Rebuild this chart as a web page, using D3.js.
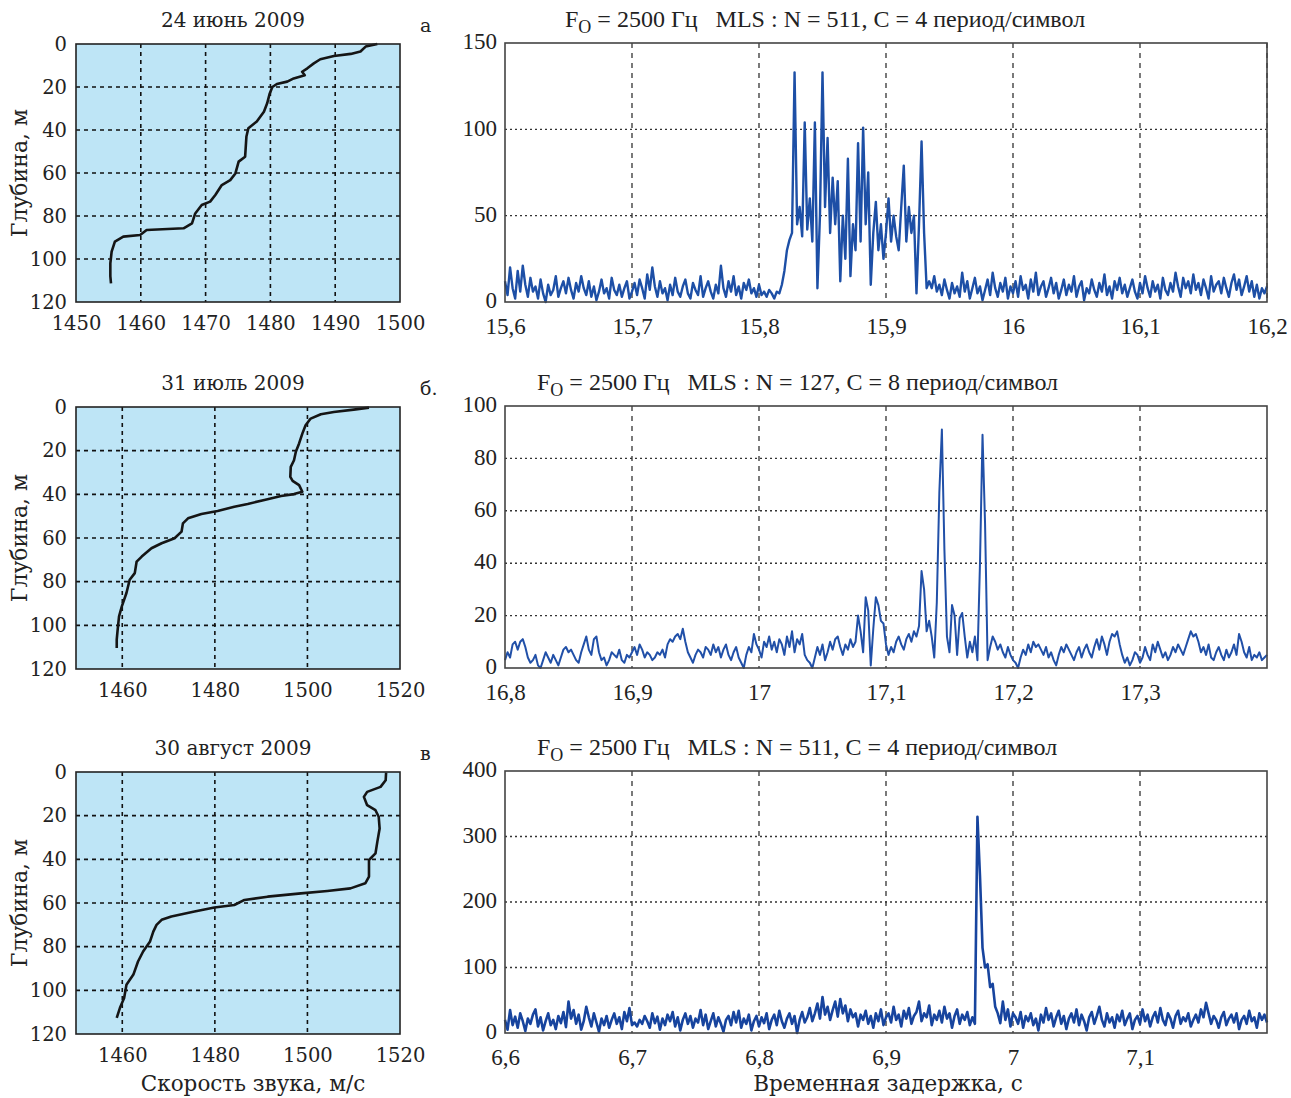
<!DOCTYPE html>
<html>
<head>
<meta charset="utf-8">
<script src="https://cdn.jsdelivr.net/npm/d3@7"></script>
<style>
  body { margin: 0; background: #fff; }
  svg { display: block; }
</style>
</head>
<body>
<svg id="chart" width="1291" height="1098"></svg>
<script>
// ---- sound speed profiles (speed m/s, depth m) ----
var speedJun = [1496.5, 1494.7, 1493.9, 1492.4, 1489.8, 1487.7, 1486.7, 1485.7, 1484.9, 1485.3, 1483.6, 1482.6, 1481, 1480.3, 1479.9, 1479.5, 1479, 1477.9, 1476.6, 1476.3, 1476.1, 1475.1, 1474.6, 1473.8, 1472.5, 1471.5, 1470.7, 1469.4, 1468.4, 1467.9, 1466.6, 1460.9, 1459.9, 1457.3, 1456, 1455.5, 1455.3, 1455.3, 1455.4];
var depthJun = [0, 1.2, 3.5, 4.6, 5.6, 7.1, 9, 11.3, 12.9, 14.5, 16, 17.5, 18.6, 20, 23, 27.6, 31.5, 36, 39.2, 43, 52.4, 54.7, 60.2, 63.3, 65.6, 70.2, 73.3, 74.9, 78.8, 83.4, 85.7, 86.5, 88.8, 89.6, 91.9, 96.6, 102, 108, 111.3];

var speedJul = [1513.3, 1510, 1505.7, 1502.9, 1500.7, 1499.6, 1498.9, 1498.2, 1497.5, 1497.1, 1496.4, 1496.3, 1496.8, 1498.2, 1498.9, 1497.1, 1494.3, 1490.7, 1487.1, 1484.2, 1480.6, 1477.1, 1474.2, 1473.1, 1472.8, 1471.3, 1468.5, 1466.3, 1464.2, 1463.1, 1462.7, 1461.6, 1460.9, 1459.9, 1459.3, 1459, 1458.8, 1458.8];
var depthJul = [0.3, 1.2, 2.3, 3.3, 5.3, 8.4, 12.2, 16.7, 20.5, 24.4, 27.4, 32, 33.8, 35.8, 38.8, 39.9, 40.8, 42.6, 44.4, 45.7, 47.6, 49, 51, 53.3, 57.1, 60.1, 62.4, 64.7, 68.5, 70.8, 76.1, 79.1, 85.2, 91.3, 95.9, 102, 106.5, 110.4];

var speedAug = [1517, 1516.9, 1515.8, 1512.9, 1512.2, 1512.9, 1514.7, 1515.4, 1515.6, 1515.1, 1514.7, 1513.3, 1513.3, 1512.5, 1509.3, 1504.3, 1498.6, 1491.4, 1486.4, 1484.2, 1479.9, 1475.6, 1470.6, 1468.5, 1467.4, 1466.7, 1466, 1464.5, 1463.4, 1462.4, 1460.9, 1460.4, 1459.5, 1458.8];
var depthAug = [0.3, 3.8, 6.8, 9.1, 11.4, 15.2, 17.5, 20.5, 25.9, 32, 37.3, 40.3, 47.9, 51, 53.3, 54.5, 55.6, 57.1, 58.6, 60.9, 62.1, 63.9, 66.2, 67.7, 70, 73.1, 77.6, 82.2, 86.8, 92.8, 97.4, 103.5, 108, 112.6];

// ---- correlation signals, one value every 2 ms ----
var stepT = 0.002;
var startA = 15.6, startB = 16.8, startC = 6.6;

var signalA = [12, 4, 20, 8, 2, 18, 6, 21, 10, 3, 14,
  6, 9, 2, 13, 5, 0, 10, 4, 7, 15,
  3, 8, 12, 5, 14, 7, 2, 11, 6, 15,
  8, 4, 12, 3, 9, 1, 6, 13, 5, 8,
  2, 14, 7, 4, 10, 3, 8, 12, 2, 6,
  11, 4, 13, 8, 2, 16, 7, 20, 9, 3,
  12, 5, 8, 1, 10, 4, 14, 6, 3, 9,
  13, 5, 2, 11, 7, 4, 15, 3, 8, 12,
  6, 2, 10, 5, 21, 8, 3, 12, 6, 15,
  4, 9, 2, 11, 7, 13, 5, 8, 3, 10,
  4, 6, 3, 7, 5, 2, 6, 5, 10, 18,
  30, 36, 40, 133, 45, 55, 38, 104, 42, 60,
  35, 104, 8, 50, 133, 55, 95, 40, 72, 45,
  70, 12, 50, 25, 83, 15, 45, 30, 92, 35,
  101, 45, 75, 10, 40, 58, 30, 45, 25, 40,
  60, 35, 50, 38, 30, 55, 79, 35, 55, 40,
  50, 5, 45, 93, 40, 8, 12, 8, 15, 6,
  10, 4, 13, 7, 2, 11, 5, 9, 3, 17,
  6, 12, 2, 8, 14, 5, 9, 1, 7, 13,
  4, 17, 8, 3, 11, 6, 14, 2, 9, 5,
  12, 3, 15, 7, 10, 2, 13, 6, 17, 4,
  9, 12, 3, 8, 14, 5, 11, 2, 7, 13,
  4, 10, 6, 15, 3, 9, 12, 1, 8, 5,
  13, 7, 3, 11, 6, 16, 4, 9, 2, 12,
  7, 14, 5, 10, 3, 8, 13, 6, 2, 11,
  5, 15, 8, 3, 12, 6, 10, 2, 14, 7,
  4, 11, 6, 17, 9, 3, 14, 8, 12, 5,
  16, 7, 11, 4, 13, 8, 2, 15, 6, 10,
  12, 5, 14, 8, 3, 11, 16, 7, 13, 4,
  9, 15, 6, 12, 3, 10, 2, 8, 5, 9];

var signalB = [3, 6, 4, 9, 10, 7, 10, 11, 8, 4, 2,
  3, 5, 1, 0, 3, 6, 4, 2, 5, 3,
  1, 4, 7, 8, 6, 7, 5, 3, 2, 6,
  9, 12, 7, 5, 11, 12, 6, 3, 4, 1,
  3, 6, 5, 4, 7, 3, 2, 5, 4, 6,
  8, 5, 9, 7, 4, 6, 5, 3, 4, 6,
  5, 7, 4, 9, 11, 10, 12, 13, 11, 15,
  10, 6, 4, 2, 5, 7, 6, 4, 8, 7,
  5, 9, 6, 8, 4, 7, 9, 5, 3, 6,
  8, 4, 2, 0, 5, 8, 6, 13, 9, 7,
  4, 10, 8, 12, 7, 10, 6, 11, 9, 5,
  12, 8, 14, 6, 11, 9, 13, 5, 3, 2,
  0, 4, 8, 5, 9, 3, 6, 10, 7, 11,
  12, 8, 5, 9, 7, 11, 8, 10, 20, 14,
  6, 27, 22, 1, 15, 27, 24, 18, 17, 9,
  5, 8, 6, 10, 12, 9, 7, 11, 13, 10,
  14, 12, 16, 37, 30, 14, 18, 12, 4, 25,
  67, 91, 45, 12, 6, 24, 20, 5, 19, 21,
  12, 4, 10, 6, 12, 3, 40, 89, 55, 3,
  8, 12, 10, 7, 9, 6, 4, 8, 5, 3,
  2, 0, 4, 7, 5, 9, 6, 10, 8, 9,
  7, 5, 8, 4, 6, 3, 1, 5, 8, 6,
  9, 7, 5, 3, 6, 8, 4, 7, 9, 6,
  4, 8, 11, 7, 12, 9, 5, 10, 13, 12,
  14, 9, 5, 2, 4, 1, 3, 6, 5, 2,
  4, 8, 5, 3, 9, 6, 10, 7, 4, 6,
  3, 5, 8, 6, 9, 7, 5, 8, 11, 14,
  12, 13, 10, 6, 8, 5, 9, 4, 3, 6,
  8, 5, 3, 7, 4, 6, 9, 5, 13, 10,
  6, 4, 8, 3, 5, 4, 6, 3, 4, 5];

var signalC = [20, 5, 35, 12, 25, 8, 30, 18, 3, 22, 14,
  28, 36, 10, 24, 4, 18, 30, 12, 20, 6,
  26, 15, 32, 9, 48, 22, 35, 14, 28, 5,
  18, 40, 24, 10, 30, 16, 2, 22, 12, 26,
  8, 20, 30, 14, 24, 6, 32, 18, 38, 12,
  16, 10, 20, 14, 26, 18, 8, 30, 15, 25,
  5, 22, 12, 28, 18, 32, 10, 24, 4, 20,
  30, 14, 26, 8, 22, 16, 35, 12, 28, 6,
  18, 30, 10, 24, 14, 2, 20, 26, 12, 32,
  16, 34, 8, 22, 14, 28, 4, 18, 26, 10,
  24, 15, 30, 6, 20, 28, 12, 34, 18, 8,
  22, 30, 14, 26, 0, 20, 32, 16, 24, 38,
  18, 30, 45, 22, 55, 28, 40, 20, 35, 48,
  25, 52, 30, 42, 18, 36, 24, 30, 10, 28,
  20, 34, 14, 26, 8, 30, 18, 36, 12, 24,
  30, 16, 40, 20, 28, 10, 34, 22, 38, 14,
  26, 32, 48, 18, 30, 24, 42, 12, 28, 20,
  34, 16, 40, 22, 30, 8, 26, 36, 14, 28,
  20, 32, 12, 24, 14, 330, 240, 130, 100, 105,
  70, 75, 40, 30, 15, 48, 20, 36, 10, 30,
  24, 14, 32, 8, 26, 18, 30, 12, 22, 4,
  28, 16, 38, 20, 30, 10, 24, 34, 14, 26,
  6, 22, 30, 16, 36, 12, 28, 18, 4, 24,
  32, 14, 26, 40, 20, 10, 30, 16, 24, 8,
  28, 18, 34, 12, 22, 30, 6, 20, 26, 14,
  36, 18, 28, 10, 24, 32, 16, 38, 20, 12,
  30, 22, 8, 26, 34, 14, 24, 18, 30, 10,
  20, 28, 16, 36, 24, 46, 30, 14, 26, 20,
  8, 24, 32, 12, 22, 28, 16, 30, 6, 20,
  26, 14, 34, 18, 24, 8, 30, 20, 28, 16];

// ---- tick labels ----
var speedTicksJun = [1450, 1460, 1470, 1480, 1490, 1500];
var speedTicks = [1460, 1480, 1500, 1520];
var depthTicks = [0, 20, 40, 60, 80, 100, 120];
var timeTicksA = [15.6, 15.7, 15.8, 15.9, 16, 16.1, 16.2];
var timeTicksB = [16.8, 16.9, 17, 17.1, 17.2, 17.3];
var timeTicksC = [6.6, 6.7, 6.8, 6.9, 7, 7.1];
var ampTicksA = [0, 50, 100, 150];
var ampTicksB = [0, 20, 40, 60, 80, 100];
var ampTicksC = [0, 100, 200, 300, 400];

var svg = d3.select("#chart");
var comma = d3.formatLocale({decimal: ",", thousands: " ", grouping: [3], currency: ["", ""]}).format("~g");

var leftX0 = 76, leftX1 = 400;
var rightX0 = 505, rightX1 = 1267;

function drawProfile(o) {
    var x = d3.scaleLinear().domain(o.xDomain).range([leftX0, leftX1]);
    var y = d3.scaleLinear().domain([0, 120]).range([o.top, o.bottom]);
    var g = svg.append("g");

    g.append("rect")
        .attr("x", leftX0).attr("y", o.top)
        .attr("width", leftX1 - leftX0).attr("height", o.bottom - o.top)
        .attr("fill", "#bee5f6");

    // dashed grid
    g.selectAll(".gx").data(o.grid).enter().append("line")
        .attr("x1", function (d) { return x(d); }).attr("x2", function (d) { return x(d); })
        .attr("y1", o.top).attr("y2", o.bottom)
        .attr("stroke", "#111").attr("stroke-width", 1.6).attr("stroke-dasharray", "4,4");
    g.selectAll(".gy").data(depthTicks.slice(1, -1)).enter().append("line")
        .attr("x1", leftX0).attr("x2", leftX1)
        .attr("y1", function (d) { return y(d); }).attr("y2", function (d) { return y(d); })
        .attr("stroke", "#111").attr("stroke-width", 1.6).attr("stroke-dasharray", "4,4");

    var line = d3.line()
        .x(function (d, i) { return x(o.speed[i]); })
        .y(function (d) { return y(d); });
    g.append("path").datum(o.depth)
        .attr("d", line)
        .attr("fill", "none").attr("stroke", "#151515")
        .attr("stroke-width", 2.6).attr("stroke-linejoin", "round");

    g.append("rect")
        .attr("x", leftX0).attr("y", o.top)
        .attr("width", leftX1 - leftX0).attr("height", o.bottom - o.top)
        .attr("fill", "none").attr("stroke", "#222").attr("stroke-width", 1.6);

    var xAxis = g.append("g")
        .attr("transform", "translate(0," + o.bottom + ")")
        .call(d3.axisBottom(x).tickValues(o.ticks).tickSize(0).tickPadding(14).tickFormat(d3.format("d")));
    var yAxis = g.append("g")
        .attr("transform", "translate(" + leftX0 + ",0)")
        .call(d3.axisLeft(y).tickValues(depthTicks).tickSize(0).tickPadding(9));
    [xAxis, yAxis].forEach(function (a) {
        a.select(".domain").remove();
        a.selectAll("text").attr("font-family", "DejaVu Serif").attr("font-size", 19.5).attr("fill", "#222");
    });

    g.append("text")
        .attr("x", (leftX0 + leftX1) / 2 - 5).attr("y", o.top - 17)
        .attr("text-anchor", "middle")
        .attr("font-family", "DejaVu Serif").attr("font-size", 20).attr("fill", "#222")
        .text(o.title);

    g.append("text")
        .attr("transform", "translate(27," + (o.top + o.bottom) / 2 + ") rotate(-90)")
        .attr("text-anchor", "middle")
        .attr("font-family", "DejaVu Serif").attr("font-size", 22).attr("fill", "#222")
        .text("Глубина, м");

    g.append("text")
        .attr("x", 420).attr("y", o.top - 12)
        .attr("font-family", "DejaVu Serif").attr("font-size", 19).attr("fill", "#222")
        .text(o.letter);
}

function drawSignal(o) {
    var x = d3.scaleLinear().domain(o.xDomain).range([rightX0, rightX1]);
    var y = d3.scaleLinear().domain([0, o.yMax]).range([o.bottom, o.top]);
    var g = svg.append("g");

    g.selectAll(".gx").data(o.ticks.slice(1)).enter().append("line")
        .attr("x1", function (d) { return x(d); }).attr("x2", function (d) { return x(d); })
        .attr("y1", o.top).attr("y2", o.bottom)
        .attr("stroke", "#333").attr("stroke-width", 1.3).attr("stroke-dasharray", "5,5");
    g.selectAll(".gy").data(o.yTicks.slice(1, -1)).enter().append("line")
        .attr("x1", rightX0).attr("x2", rightX1)
        .attr("y1", function (d) { return y(d); }).attr("y2", function (d) { return y(d); })
        .attr("stroke", "#333").attr("stroke-width", 1.4).attr("stroke-dasharray", "2,3");

    var line = d3.line()
        .x(function (d, i) { return x(o.start + i * stepT); })
        .y(function (d) { return y(d); });
    g.append("path").datum(o.values)
        .attr("d", line)
        .attr("fill", "none").attr("stroke", o.color)
        .attr("stroke-width", o.width).attr("stroke-linejoin", "round");

    g.append("rect")
        .attr("x", rightX0).attr("y", o.top)
        .attr("width", rightX1 - rightX0).attr("height", o.bottom - o.top)
        .attr("fill", "none").attr("stroke", "#444").attr("stroke-width", 1.6);

    var xAxis = g.append("g")
        .attr("transform", "translate(0," + o.bottom + ")")
        .call(d3.axisBottom(x).tickValues(o.ticks).tickSize(0).tickPadding(16).tickFormat(comma));
    var yAxis = g.append("g")
        .attr("transform", "translate(" + rightX0 + ",0)")
        .call(d3.axisLeft(y).tickValues(o.yTicks).tickSize(0).tickPadding(8));
    [xAxis, yAxis].forEach(function (a) {
        a.select(".domain").remove();
        a.selectAll("text").attr("font-family", "Liberation Serif").attr("font-size", 23).attr("fill", "#222");
    });
    yAxis.selectAll("text").attr("dy", "0.25em");

    var t = g.append("text")
        .attr("x", o.titleX).attr("y", o.top - 16)
        .attr("font-family", "Liberation Serif").attr("font-size", 24).attr("fill", "#222")
        .attr("xml:space", "preserve");
    t.append("tspan").text("F");
    t.append("tspan").attr("dy", 6).attr("font-size", 18).text("O");
    t.append("tspan").attr("dy", -6).text(" = 2500 Гц   MLS : N = " + o.n + ", C = " + o.c + " период/символ");
}

drawProfile({ top: 44, bottom: 302, xDomain: [1450, 1500], ticks: speedTicksJun, grid: [1460, 1470, 1480, 1490],
    speed: speedJun, depth: depthJun, title: "24 июнь 2009", letter: "а" });
drawProfile({ top: 407, bottom: 669, xDomain: [1450, 1520], ticks: speedTicks, grid: [1460, 1480, 1500],
    speed: speedJul, depth: depthJul, title: "31 июль 2009", letter: "б." });
drawProfile({ top: 772, bottom: 1034, xDomain: [1450, 1520], ticks: speedTicks, grid: [1460, 1480, 1500],
    speed: speedAug, depth: depthAug, title: "30 август 2009", letter: "в" });

drawSignal({ top: 43, bottom: 302, xDomain: [15.6, 16.2], ticks: timeTicksA, yMax: 150, yTicks: ampTicksA,
    start: startA, values: signalA, color: "#1d4fa6", width: 2.4, titleX: 565, n: 511, c: 4 });
drawSignal({ top: 406, bottom: 668, xDomain: [16.8, 17.4], ticks: timeTicksB, yMax: 100, yTicks: ampTicksB,
    start: startB, values: signalB, color: "#2150a8", width: 2.0, titleX: 537, n: 127, c: 8 });
drawSignal({ top: 771, bottom: 1033, xDomain: [6.6, 7.2], ticks: timeTicksC, yMax: 400, yTicks: ampTicksC,
    start: startC, values: signalC, color: "#17449e", width: 2.6, titleX: 537, n: 511, c: 4 });

// shared axis titles
svg.append("text")
    .attr("x", 253).attr("y", 1091).attr("text-anchor", "middle")
    .attr("font-family", "DejaVu Serif").attr("font-size", 21.5).attr("fill", "#222")
    .text("Скорость звука, м/с");
svg.append("text")
    .attr("x", 888).attr("y", 1091).attr("text-anchor", "middle")
    .attr("font-family", "DejaVu Serif").attr("font-size", 21.5).attr("fill", "#222")
    .text("Временная задержка, с");
</script>
</body>
</html>
